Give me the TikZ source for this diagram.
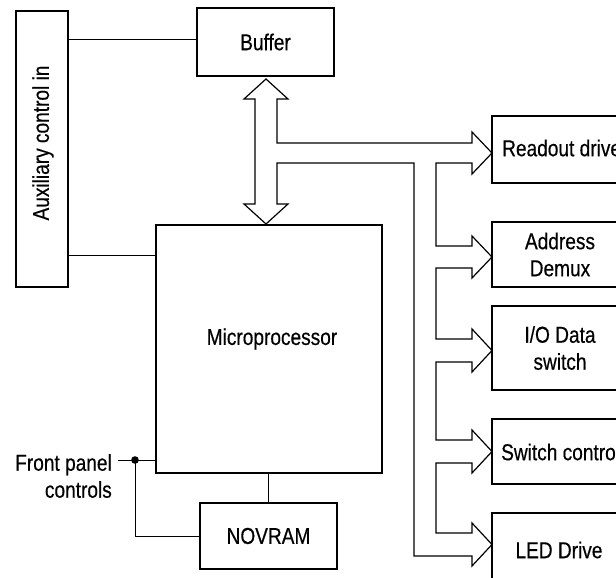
\documentclass[tikz,border=0pt]{standalone}
\usepackage{fontspec}
\setmainfont{Liberation Sans}[FakeStretch=0.83,FakeBold=0.4]
\begin{document}
\begin{tikzpicture}[x=1pt,y=-1pt,
  blk/.style={draw,line width=1.8pt,inner sep=0pt,align=center,font=\fontsize{23}{27}\selectfont},
  wire/.style={line width=1pt},
  bus/.style={line width=1.2pt,line join=miter},
  lbl/.style={inner sep=0pt,font=\fontsize{23}{27}\selectfont}]
\useasboundingbox (0,0) rectangle (616,578);
\clip (0,0) rectangle (616,578);
% boxes
\node[blk,minimum width=52pt,minimum height=276pt] (aux) at (42,149) {};
\node[lbl,rotate=90] (auxt) at (43,143) {Auxiliary control in};
\node[blk,minimum width=137pt,minimum height=68pt] (buffer) at (265.5,42) {Buffer};
\node[blk,minimum width=226pt,minimum height=248pt] (micro) at (269,349) {};
\node[lbl] (microt) at (272,339) {Microprocessor};
\node[blk,minimum width=137pt,minimum height=66pt] (novram) at (268.5,536) {NOVRAM};
\node[blk,minimum width=136pt,minimum height=67pt] (readout) at (560,149.5) {};
\node[lbl,anchor=west] (readoutt) at (502,148) {Readout drive};
\node[blk,minimum width=136pt,minimum height=65pt] (addr) at (560,254.5) {Address\\Demux};
\node[blk,minimum width=136pt,minimum height=84pt] (io) at (560,348) {I/O Data\\switch};
\node[blk,minimum width=136pt,minimum height=65pt] (sw) at (560,451.5) {};
\node[lbl,anchor=west] (swt) at (501,452) {Switch control};
\node[blk,minimum width=136pt,minimum height=72pt] (led) at (560,549) {};
\node[lbl] (ledt) at (559,550) {LED Drive};
\node[lbl,align=right,anchor=east] (fp) at (112,476) {Front panel\\controls};
% connectors
\draw[wire] (aux.east |- 0,40) -- (buffer.west |- 0,40);
\draw[wire] (aux.east |- 0,255) -- (micro.west |- 0,255);
\coordinate (fpend) at (118,460);
\coordinate (dot) at (135,460);
\draw[wire] (fpend) -- (micro.west |- fpend);
\fill (dot) circle (3.8pt);
\draw[wire] (dot) |- (novram.west);
\draw[wire] (micro.south -| novram.north) -- (novram.north);
% bus
\draw[bus] (255,204) -- (255,99) -- (244,99) -- (266,79) -- (288,99) -- (277,99)
  -- (277,143) -- (472,143) -- (472,132) -- (492,153) -- (472,174) -- (472,163)
  -- (436,163) -- (436,246) -- (472,246) -- (472,236) -- (492,257) -- (472,278) -- (472,268)
  -- (436,268) -- (436,339) -- (472,339) -- (472,329) -- (492,350.5) -- (472,372) -- (472,362)
  -- (436,362) -- (436,440) -- (472,440) -- (472,430) -- (492,451.5) -- (472,473) -- (472,463)
  -- (436,463) -- (436,533) -- (472,533) -- (472,523) -- (492,544.5) -- (472,566) -- (472,556)
  -- (414,556) -- (414,163) -- (277,163) -- (277,204) -- (288,204) -- (266,224) -- (244,204) -- cycle;
\end{tikzpicture}
\end{document}
